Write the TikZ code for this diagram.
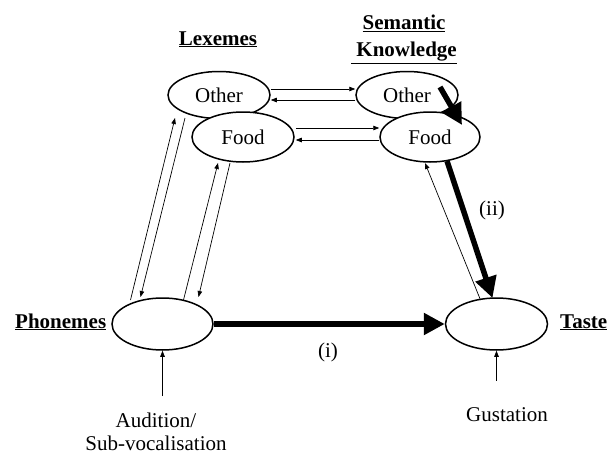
\documentclass[tikz,border=0pt]{standalone}
\usepackage{fontspec}
\setmainfont{Liberation Serif}
\usetikzlibrary{shapes.geometric,arrows.meta,calc}
\begin{document}
\begin{tikzpicture}[x=1pt,y=-1pt,
  ell/.style={ellipse,draw,line width=1.5pt,fill=white,inner sep=0pt,font=\fontsize{21}{25}\selectfont},
  thinarr/.style={-{Triangle[length=6pt,width=4.5pt]},line width=0.7pt},
  thickarr/.style={-{Triangle[length=21pt,width=21pt]},line width=5.5pt},
  lbl/.style={font=\fontsize{21}{27}\selectfont\bfseries,align=center,inner sep=0pt},
  txt/.style={font=\fontsize{21}{23}\selectfont,align=center,inner sep=0pt}]
\useasboundingbox[fill=white] (0,0) rectangle (608,455);

% ellipses
\node[ell,minimum width=102pt,minimum height=47pt] (lo) at (219,95) {Other};
\node[ell,minimum width=102pt,minimum height=47pt] (so) at (407,95) {Other};
\node[ell,minimum width=102pt,minimum height=50pt] (lf) at (243,137) {Food};
\node[ell,minimum width=100pt,minimum height=50pt] (sf) at (430,137) {Food};
\node[ell,minimum width=101pt,minimum height=52pt] (ph) at (162.5,324) {};
\node[ell,minimum width=102pt,minimum height=52pt] (ta) at (496.5,324) {};

% labels
\node[lbl,anchor=base] (lex) at (218,45) {\underline{Lexemes}};
\node[lbl,anchor=north] (sem) at (404,15) {\underline{Semantic}\\\underline{\ Knowledge}};
\node[lbl,anchor=base west] (phl) at (15,328) {\underline{Phonemes}};
\node[lbl,anchor=base west] (tal) at (560,328) {\underline{Taste}};
\node[txt,anchor=north] (aud) at (156,413) {Audition/\\Sub-vocalisation};
\node[txt,anchor=base] (gus) at (507,421) {Gustation};
\node[txt] (li) at (328,352) {(i)};
\node[txt] (lii) at (492,210) {(ii)};

% horizontal connectors
\draw[thinarr] ([yshift=6pt]lo.east) -- ([yshift=6pt]so.west);
\draw[thinarr] ([yshift=-5pt]so.west) -- ([yshift=-5pt]lo.east);
\draw[thinarr] ([yshift=9pt,xshift=1pt]lf.east) -- ([yshift=9pt]sf.west);
\draw[thinarr] ([yshift=-3pt]sf.west) -- ([yshift=-3pt,xshift=1pt]lf.east);

% left diagonal connectors
\draw[thinarr] ([shift={(-32,-24)}]ph.center) -- ([shift={(-44,23)}]lo.center);
\draw[thinarr] ([shift={(-34,23)}]lo.center) -- ([shift={(-22,-27)}]ph.center);
\draw[thinarr] ([shift={(21,-24)}]ph.center) -- ([shift={(-25,26)}]lf.center);
\draw[thinarr] ([shift={(-13,26)}]lf.center) -- ([shift={(36,-27)}]ph.center);

% right connectors
\draw[thinarr] ([shift={(-16,-24)}]ta.center) -- ([shift={(-5,26)}]sf.center);
\draw[thickarr] ([shift={(17,24)}]sf.center) -- ([shift={(-4,-26)}]ta.center);
\draw[thickarr] ([shift={(33,-8)}]so.center) -- ([shift={(32,-12)}]sf.center);
\draw[thickarr] (ph.east) -- (ta.west);

% inputs
\draw[thinarr] ([yshift=17pt]aud.north -| ph.south) -- (ph.south);
\draw[thinarr] ([yshift=26pt]gus.north -| ta.south) -- (ta.south);
\end{tikzpicture}
\end{document}
